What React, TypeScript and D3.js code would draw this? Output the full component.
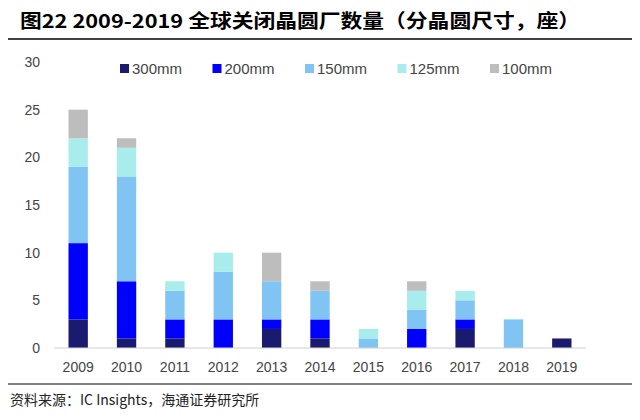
import React from 'react';
import * as d3 from 'd3';

const years = ['2009','2010','2011','2012','2013','2014','2015','2016','2017','2018','2019'];
const seriesNames = ['300mm','200mm','150mm','125mm','100mm'];
const colors = ['#1a1a6e','#0000ff','#80c4f4','#a8ecec','#bdbdbd'];
const s300 = [3,1,1,0,2,1,0,0,2,0,1];
const s200 = [8,6,2,3,1,2,0,2,1,0,0];
const s150 = [8,11,3,5,4,3,1,2,2,3,0];
const s125 = [3,3,1,2,0,0,1,2,1,0,0];
const s100 = [3,1,0,0,3,1,0,1,0,0,0];
const yTicks = [0,5,10,15,20,25,30];

export default function App() {
  const rows = years.map((y, i) => ({ year: y, '300mm': s300[i], '200mm': s200[i], '150mm': s150[i], '125mm': s125[i], '100mm': s100[i] }));
  const stack = d3.stack<any>().keys(seriesNames)(rows);
  const x = d3.scaleBand().domain(years).range([54, 586]).paddingInner(0.6).paddingOuter(0.3);
  const y = d3.scaleLinear().domain([0, 30]).range([348, 62]);
  const font = 'Arial, "Liberation Sans", sans-serif';
  return (
    <svg width={640} height={420} style={{ position: 'absolute', left: 0, top: 0 }} fontFamily={font}>
      <text x={20} y={28} fontSize={19} fontWeight="bold" fontFamily='"Noto Sans CJK SC", sans-serif' textLength={560} lengthAdjust="spacingAndGlyphs">图22  2009-2019 全球关闭晶圆厂数量（分晶圆尺寸，座）</text>
      <line x1={8} x2={632} y1={39} y2={39} stroke="#000" strokeWidth={1.5} />
      {yTicks.map(t => (
        <text key={t} x={40} y={y(t) + 5} fontSize={14} fill="#444" textAnchor="end">{t}</text>
      ))}
      {stack.map((layer, k) => layer.map((d, i) => (
        <rect key={k + '-' + i} x={x(years[i])} width={x.bandwidth()} y={y(d[1])} height={y(d[0]) - y(d[1])} fill={colors[k]} />
      )))}
      <line x1={54} x2={586} y1={348} y2={348} stroke="#d0d0d0" />
      {years.map(yr => (
        <text key={yr} x={(x(yr) as number) + x.bandwidth() / 2} y={372} fontSize={14} fill="#444" textAnchor="middle">{yr}</text>
      ))}
      {seriesNames.map((n, i) => (
        <g key={n} transform={`translate(${120 + i * 92.5},69)`}>
          <rect x={0} y={-5} width={9} height={9} fill={colors[i]} />
          <text x={12} y={5} fontSize={15} fill="#444">{n}</text>
        </g>
      ))}
      <line x1={8} x2={632} y1={384} y2={384} stroke="#000" strokeWidth={1} />
      <text x={10} y={405} fontSize={14} fill="#222" fontFamily='"Noto Sans CJK SC", sans-serif'>资料来源：IC Insights，海通证券研究所</text>
    </svg>
  );
}
